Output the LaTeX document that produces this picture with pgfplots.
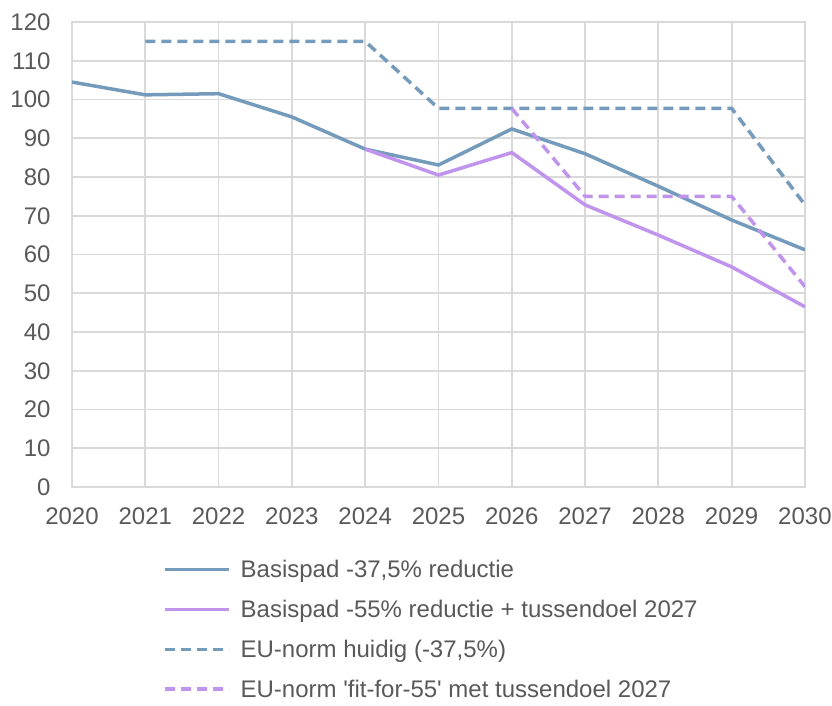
\documentclass[border=0pt]{standalone}
\usepackage{pgfplots}
\pgfplotsset{compat=1.18}
\usepackage{fontspec}
\setmainfont{Liberation Sans}
\definecolor{cblue}{RGB}{117,155,188}
\definecolor{cpurp}{RGB}{192,148,236}
\definecolor{gridc}{RGB}{217,217,217}
\definecolor{txtc}{RGB}{89,89,89}
\begin{document}
\begin{tikzpicture}
\useasboundingbox (-72pt,-218pt) rectangle (760pt,487pt);
\begin{axis}[
  at={(0,0)}, anchor=south west,
  scale only axis, width=733pt, height=465pt,
  xmin=2020, xmax=2030, ymin=0, ymax=120,
  xtick={2020,...,2030}, ytick={0,10,...,120},
  xticklabel style={/pgf/number format/1000 sep={}},
  /pgf/number format/assume math mode=true,
  tick label style={font=\fontsize{24}{28}\selectfont, text=txtc},
  xticklabel style={yshift=-17pt},
  yticklabel style={xshift=-18pt},
  major tick length=0pt,
  grid=major,
  grid style={gridc, line width=1.8pt},
  axis line style={gridc, line width=1.8pt},
  legend style={draw=none, fill=none, at={(0.120,-0.148)}, anchor=north west,
    font=\fontsize{24}{28}\selectfont, text=txtc, row sep=17pt,
    /tikz/every odd column/.append style={column sep=8pt}},
  legend cell align=left,
  legend image code/.code={\draw[#1] (0pt,0pt) -- (64pt,0pt);},
]
\addplot[cblue, line width=3.5pt] coordinates {
 (2020,104.5) (2021,101.2) (2022,101.5) (2023,95.5) (2024,87.2) (2025,83.1)
 (2026,92.4) (2027,86.0) (2028,77.6) (2029,68.9) (2030,61.2)};
\addlegendentry{Basispad -37,5\% reductie}
\addplot[cpurp, line width=3.5pt] coordinates {
 (2024,87.2) (2025,80.5) (2026,86.3) (2027,72.8) (2028,65.0) (2029,56.8) (2030,46.5)};
\addlegendentry{Basispad -55\% reductie + tussendoel 2027}
\addplot[cblue, line width=3.5pt, dash pattern=on 10pt off 6pt] coordinates {
 (2021,115) (2022,115) (2023,115) (2024,115) (2025,97.7) (2026,97.7)
 (2027,97.7) (2028,97.7) (2029,97.7) (2030,72.8)};
\addlegendentry{EU-norm huidig (-37,5\%)}
\addplot[cpurp, line width=3.5pt, dash pattern=on 10pt off 6pt] coordinates {
 (2026,97.7) (2027,75) (2028,75) (2029,75) (2030,51.7)};
\addlegendentry{EU-norm \textquotesingle fit-for-55\textquotesingle\ met tussendoel 2027}
\end{axis}
\end{tikzpicture}
\end{document}
